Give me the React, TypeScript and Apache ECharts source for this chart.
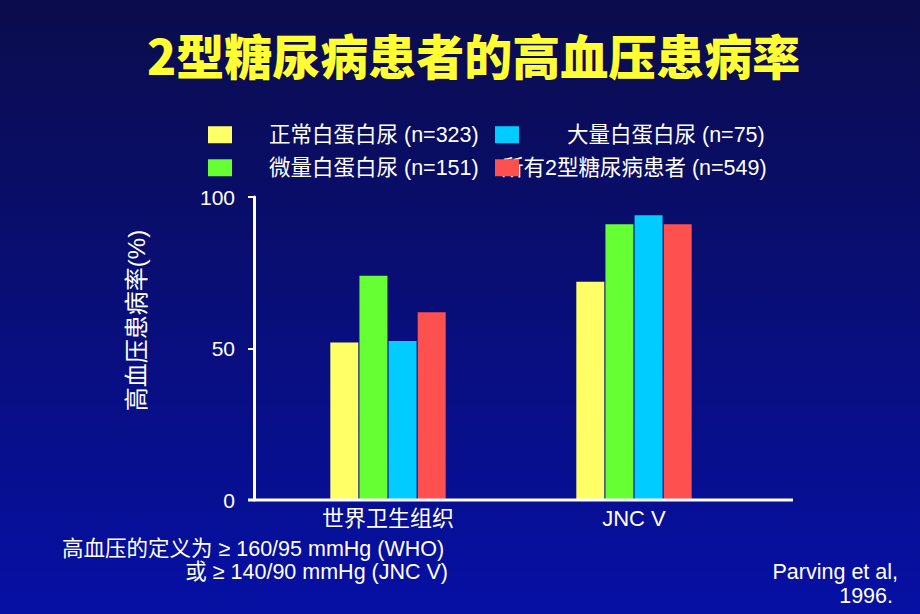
import React, { useEffect, useRef } from "react";
import * as echarts from "echarts";

const categories = ["世界卫生组织", "JNC V"];
const seriesNames = [
  "正常白蛋白尿 (n=323)",
  "微量白蛋白尿 (n=151)",
  "大量白蛋白尿 (n=75)",
  "所有2型糖尿病患者 (n=549)",
];
const normoValues = [52, 72];
const microValues = [74, 91];
const macroValues = [52.5, 94];
const allValues = [62, 91];
const seriesColors = ["#ffff66", "#66ff33", "#00ccff", "#ff5050"];
const yMin = 0;
const yMax = 100;
const yInterval = 50;

const FONT = "'Liberation Sans', Arial, 'Noto Sans CJK SC', sans-serif";

export default function App() {
  const ref = useRef<HTMLDivElement>(null);
  useEffect(() => {
    if (!ref.current) return;
    const chart = echarts.init(ref.current, undefined, { renderer: "svg" });
    const values = [normoValues, microValues, macroValues, allValues];
    const legendBase = {
      orient: "horizontal",
      padding: 0,
      icon: "rect",
      itemWidth: 24,
      itemHeight: 17,
      selectedMode: false,
    };
    const legendText = (pad: number) => ({
      color: "#ffffff",
      fontSize: 21.5,
      fontFamily: FONT,
      padding: [0, 0, 0, pad],
    });
    const note = { color: "#ffffff", fontSize: 21.5, fontWeight: "normal", fontFamily: FONT, lineHeight: 21 };
    chart.setOption({
      animation: false,
      backgroundColor: {
        type: "linear",
        x: 0,
        y: 0,
        x2: 0,
        y2: 1,
        colorStops: [
          { offset: 0, color: "#0b0c4c" },
          { offset: 1, color: "#0610a4" },
        ],
      },
      title: [
        {
          text: "2型糖尿病患者的高血压患病率",
          left: 147,
          top: 30,
          padding: 0,
          textStyle: {
            color: "#ffff33",
            fontSize: 48,
            fontWeight: 900,
            fontFamily: "'Noto Sans CJK SC', sans-serif",
            textShadowColor: "#000000",
            textShadowOffsetX: 3,
            textShadowOffsetY: 3,
            textShadowBlur: 0,
          },
        },
        { text: "高血压的定义为 ≥ 160/95 mmHg (WHO)", left: 62, top: 538, padding: 0, textStyle: note },
        { text: "或 ≥ 140/90 mmHg (JNC V)", right: 472, top: 561, padding: 0, textStyle: note },
        { text: "Parving et al,", right: 22, top: 561, padding: 0, textStyle: note },
        { text: "1996.", right: 27, top: 585, padding: 0, textStyle: note },
      ],
      legend: [
        { ...legendBase, data: [seriesNames[0]], left: 208, top: 124, textStyle: legendText(32) },
        { ...legendBase, data: [seriesNames[1]], left: 208, top: 157, textStyle: legendText(32) },
        { ...legendBase, data: [seriesNames[2]], left: 495, top: 124, textStyle: legendText(43) },
        {
          ...legendBase,
          data: [seriesNames[3]],
          left: 495,
          top: 157,
          itemStyle: { opacity: 0 },
          textStyle: legendText(-22),
        },
        {
          ...legendBase,
          data: [seriesNames[3]],
          left: 495,
          top: 157,
          z: 6,
          formatter: () => " ",
          textStyle: legendText(0),
        },
      ],
      grid: { left: 265, right: 163, top: 197, bottom: 114, containLabel: false },
      xAxis: {
        type: "category",
        data: categories,
        axisLine: { show: false },
        axisTick: { show: false },
        axisLabel: { color: "#ffffff", fontSize: 22, fontFamily: FONT, margin: 7 },
      },
      yAxis: {
        type: "value",
        min: yMin,
        max: yMax,
        interval: yInterval,
        offset: 11,
        name: "高血压患病率(%)",
        nameLocation: "middle",
        nameRotate: 90,
        nameGap: 106,
        nameTextStyle: { color: "#ffffff", fontSize: 24, fontFamily: FONT, padding: [0, 0, 0, 56] },
        axisLine: { show: true, lineStyle: { color: "#ffffff", width: 3 } },
        axisTick: { show: true, length: 6, lineStyle: { color: "#ffffff", width: 2 } },
        axisLabel: { color: "#ffffff", fontSize: 21, fontFamily: FONT, margin: 19 },
        splitLine: { show: false },
      },
      graphic: [
        {
          type: "line",
          shape: { x1: 248, y1: 500, x2: 793, y2: 500 },
          style: { stroke: "#ffffff", lineWidth: 3 },
          z: 10,
        },
      ],
      series: seriesNames.map((name, i) => ({
        name,
        type: "bar",
        data: values[i],
        barWidth: 28,
        barGap: "4%",
        itemStyle: { color: seriesColors[i] },
      })),
    });
    return () => chart.dispose();
  }, []);
  return (
    <div
      ref={ref}
      style={{ position: "fixed", left: 0, top: 0, width: 920, height: 614 }}
    />
  );
}
